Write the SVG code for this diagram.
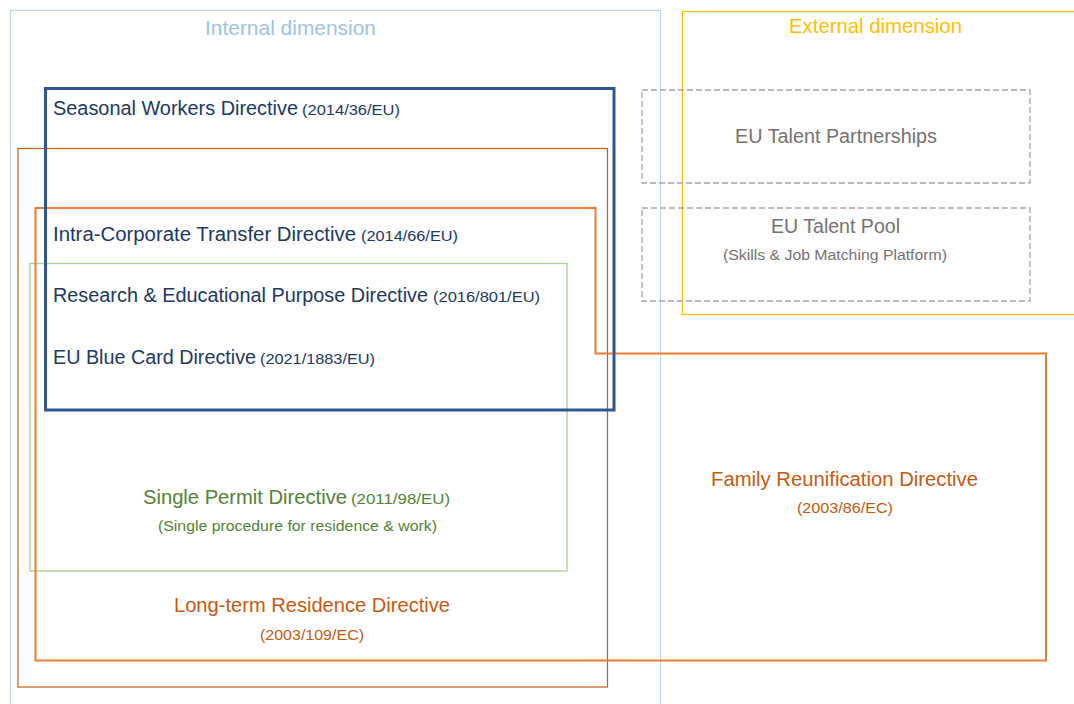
<svg xmlns="http://www.w3.org/2000/svg" width="1074" height="704" viewBox="0 0 1074 704">
<style>
text{font-family:"Liberation Sans",Arial,sans-serif;}
.box{fill:none;}
.t{font-size:20px;}
.s{font-size:15.5px;}
.blue{fill:#203864;}
.grey{fill:#767171;}
.green{fill:#548235;}
.orange{fill:#C55A11;}
</style>
<rect width="1074" height="704" fill="#ffffff"/>
<g id="internal">
<rect class="box" x="10.5" y="10.5" width="650" height="720" stroke="#BDD7EE" stroke-width="1.2"/>
<text x="205" y="35" font-size="21" fill="#9DC3E6" textLength="171" lengthAdjust="spacingAndGlyphs">Internal dimension</text>
</g>
<g id="external">
<rect class="box" x="682.5" y="11.5" width="420" height="303" stroke="#FFC000" stroke-width="1.2"/>
<text x="789" y="33" font-size="21" fill="#FFC000" textLength="173" lengthAdjust="spacingAndGlyphs">External dimension</text>
</g>
<g id="talent-partnerships">
<rect class="box" x="642" y="90" width="388" height="93" stroke="#A6A6A6" stroke-width="1.3" stroke-dasharray="6,3"/>
<text class="t grey" x="735" y="143" textLength="202" lengthAdjust="spacingAndGlyphs">EU Talent Partnerships</text>
</g>
<g id="talent-pool">
<rect class="box" x="642" y="208" width="388" height="93" stroke="#A6A6A6" stroke-width="1.3" stroke-dasharray="6,3"/>
<text class="t grey" x="771" y="233" textLength="129" lengthAdjust="spacingAndGlyphs">EU Talent Pool</text>
<text class="s grey" x="723" y="260" textLength="224" lengthAdjust="spacingAndGlyphs">(Skills &amp; Job Matching Platform)</text>
</g>
<g id="long-term-residence">
<rect class="box" x="18" y="148.5" width="589.5" height="538.5" stroke="#C55A11" stroke-width="1.2"/>
<text class="t orange" x="174" y="612" textLength="276" lengthAdjust="spacingAndGlyphs">Long-term Residence Directive</text>
<text class="s orange" x="260" y="640" textLength="104" lengthAdjust="spacingAndGlyphs">(2003/109/EC)</text>
</g>
<g id="single-permit">
<rect class="box" x="30" y="263.5" width="537" height="307.5" stroke="#A9D18E" stroke-width="1.3"/>
<text class="t green" x="143" y="504" textLength="204" lengthAdjust="spacingAndGlyphs">Single Permit Directive</text>
<text class="s green" x="351" y="504" textLength="99" lengthAdjust="spacingAndGlyphs">(2011/98/EU)</text>
<text class="s green" x="158" y="531" textLength="279" lengthAdjust="spacingAndGlyphs">(Single procedure for residence &amp; work)</text>
</g>
<g id="family-reunification">
<path class="box" d="M35.5 208H595.5V353.5H1046V660.5H35.5Z" stroke="#ED7D31" stroke-width="2"/>
<text class="t orange" x="711" y="486" textLength="267" lengthAdjust="spacingAndGlyphs">Family Reunification Directive</text>
<text class="s orange" x="797" y="513" textLength="96" lengthAdjust="spacingAndGlyphs">(2003/86/EC)</text>
</g>
<g id="labour-directives">
<rect class="box" x="45.5" y="88.5" width="568.5" height="321.5" stroke="#2F5597" stroke-width="3"/>
<text class="t blue" x="53" y="115" textLength="245" lengthAdjust="spacingAndGlyphs">Seasonal Workers Directive</text>
<text class="s blue" x="302" y="115" textLength="98" lengthAdjust="spacingAndGlyphs">(2014/36/EU)</text>
<text class="t blue" x="53" y="241" textLength="303" lengthAdjust="spacingAndGlyphs">Intra-Corporate Transfer Directive</text>
<text class="s blue" x="361" y="241" textLength="97" lengthAdjust="spacingAndGlyphs">(2014/66/EU)</text>
<text class="t blue" x="53" y="302" textLength="375" lengthAdjust="spacingAndGlyphs">Research &amp; Educational Purpose Directive</text>
<text class="s blue" x="433" y="302" textLength="107" lengthAdjust="spacingAndGlyphs">(2016/801/EU)</text>
<text class="t blue" x="53" y="364" textLength="203" lengthAdjust="spacingAndGlyphs">EU Blue Card Directive</text>
<text class="s blue" x="260" y="364" textLength="115" lengthAdjust="spacingAndGlyphs">(2021/1883/EU)</text>
</g>
<g id="connectors"></g>
</svg>
